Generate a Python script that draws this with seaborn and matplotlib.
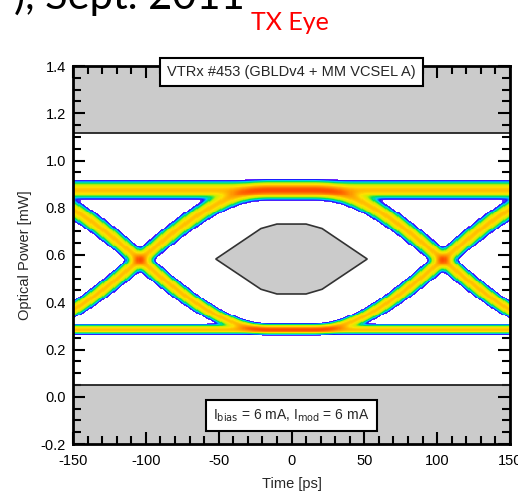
import numpy as np
import matplotlib
matplotlib.use("Agg")
import matplotlib.pyplot as plt
import seaborn as sns
from matplotlib.colors import LinearSegmentedColormap
from matplotlib.ticker import MultipleLocator, FormatStrFormatter

# ---------------- data ----------------
bit_levels = [0.285, 0.875]            # optical power of logical 0 / 1 [mW]
crossing_times = [-104.0, 104.0]       # eye crossing points [ps]
transition_halfwidth = 90.0            # half duration of an edge [ps]
level_noise = [0.010, 0.017]           # vertical noise sigma at 0 / 1 [mW]
timing_jitter = 3.0                    # ps
mask_time = [-52, -21, -10, 10, 21, 52, 21, 10, -10, -21]
mask_power = [0.583, 0.712, 0.731, 0.731, 0.712, 0.583, 0.455, 0.435, 0.435, 0.455]
upper_limit = 1.115
lower_limit = 0.05
x_ticks = [-150, -100, -50, 0, 50, 100, 150]
y_ticks = [-0.2, 0.0, 0.2, 0.4, 0.6, 0.8, 1.0, 1.2, 1.4]
title_text = "TX Eye"
slide_text = "), Sept. 2011"
device_text = "VTRx #453 (GBLDv4 + MM VCSEL A)"
current_text = r"I$_{\mathrm{bias}}$ = 6 mA, I$_{\mathrm{mod}}$ = 6 mA"
density_colors = ["#7a2cff", "#1a1aff", "#00c8ff", "#00e060", "#c8f000",
                  "#ffe000", "#ff9000", "#ff2000"]

# ---------------- build the eye density ----------------
t_edges = np.linspace(-150, 150, 401)
y_edges = np.linspace(-0.2, 1.4, 401)
tc = 0.5 * (t_edges[:-1] + t_edges[1:])
yc = 0.5 * (y_edges[:-1] + y_edges[1:])
T, Y = np.meshgrid(tc, yc, indexing="ij")


def edge(t, t0, a, b):
    u = np.clip((t - t0) / transition_halfwidth, -1, 1)
    return 0.5 * (a + b) + 0.5 * (b - a) * np.sin(0.5 * np.pi * u)


low, high = bit_levels
D = np.zeros_like(T)
for b0 in (0, 1):
    for b1 in (0, 1):
        for b2 in (0, 1):
            L0, L1, L2 = bit_levels[b0], bit_levels[b1], bit_levels[b2]
            ytr = np.where(tc < 0, edge(tc, crossing_times[0], L0, L1),
                           edge(tc, crossing_times[1], L1, L2))
            slope = np.gradient(ytr, tc)
            sv = level_noise[0] + (level_noise[1] - level_noise[0]) * (ytr - low) / (high - low)
            s = np.sqrt(sv ** 2 + (slope * timing_jitter) ** 2)
            D += np.exp(-0.5 * ((Y - ytr[:, None]) / s[:, None]) ** 2)

thr, top = 0.09, 5.0
W = np.clip(np.log(np.maximum(D, 1e-12) / thr) / np.log(top / thr), 0, 1)

# ---------------- plot ----------------
sns.set_style("ticks")
plt.rcParams["font.family"] = ["Liberation Sans", "DejaVu Sans"]
plt.rcParams["axes.unicode_minus"] = False

eye_cmap = LinearSegmentedColormap.from_list("eye", density_colors)

fig = plt.figure(figsize=(5.18, 4.93), dpi=100)
ax = fig.add_axes([73 / 518, 1 - 444 / 493, (510 - 73) / 518, (444 - 66) / 493])

ax.axhspan(upper_limit, 1.4, facecolor="#cbcbcb", edgecolor="none", zorder=0)
ax.axhspan(-0.2, lower_limit, facecolor="#cbcbcb", edgecolor="none", zorder=0)
ax.axhline(upper_limit, color="#222222", lw=1.3, zorder=2)
ax.axhline(lower_limit, color="#222222", lw=1.3, zorder=2)

sns.histplot(x=T.ravel(), y=Y.ravel(), weights=W.ravel(), bins=[t_edges, y_edges],
             cmap=eye_cmap, thresh=0, vmin=0.0, vmax=1.0, ax=ax, zorder=1)

ax.fill(mask_time, mask_power, facecolor="#cbcbcb", edgecolor="#333333", lw=1.2, zorder=3)

ax.set_xlim(-150, 150)
ax.set_ylim(-0.2, 1.4)
ax.set_xticks(x_ticks)
ax.set_yticks(y_ticks)
ax.xaxis.set_minor_locator(MultipleLocator(10))
ax.yaxis.set_minor_locator(MultipleLocator(0.05))
ax.xaxis.set_major_formatter(FormatStrFormatter("%d"))
ax.yaxis.set_major_formatter(FormatStrFormatter("%.1f"))
ax.tick_params(which="both", direction="in", top=True, right=True, width=1.5,
               labelsize=10.5, colors="black")
ax.tick_params(which="major", length=8.5, pad=5)
ax.tick_params(which="minor", length=5.5)
ax.tick_params(axis="x", which="major", pad=7)
for sp in ax.spines.values():
    sp.set_linewidth(2)
    sp.set_color("black")
    sp.set_zorder(5)

ax.set_xlabel("Time [ps]", fontsize=10.5, labelpad=7)
ax.set_ylabel("Optical Power [mW]", fontsize=10.5, labelpad=6)

ax.text(0, 1.375, device_text, ha="center", va="center", fontsize=10.5, zorder=10,
        clip_on=False,
        bbox=dict(boxstyle="square,pad=0.5", fc="white", ec="black", lw=1.5))
ax.text(0, -0.079, current_text, ha="center", va="center", fontsize=10, zorder=10,
        bbox=dict(boxstyle="square,pad=0.55", fc="white", ec="black", lw=1.5))

fig.text(290 / 518, 1 - 22 / 493, title_text, color="red", fontsize=18,
         ha="center", va="center", family=["Lato", "DejaVu Sans"])
fig.text(245 / 518, 1 - 9 / 493, slide_text, color="black", fontsize=30,
         ha="right", va="baseline", family=["Lato", "DejaVu Sans"])

fig.savefig("out.png", dpi=100)
